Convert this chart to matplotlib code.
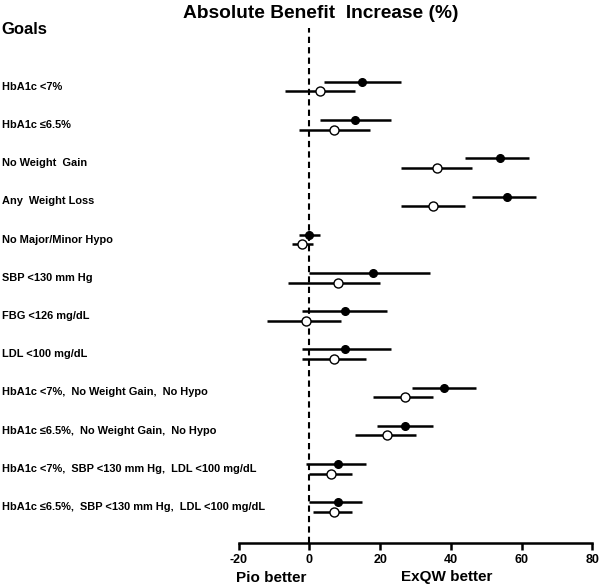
import matplotlib
matplotlib.use("Agg")
import matplotlib.pyplot as plt
import matplotlib.transforms as mtransforms
import numpy as np

plt.rcParams['font.family'] = ['Liberation Sans', 'DejaVu Sans']

goals = [
    "HbA1c <7%",
    "HbA1c \u22646.5%",
    "No Weight  Gain",
    "Any  Weight Loss",
    "No Major/Minor Hypo",
    "SBP <130 mm Hg",
    "FBG <126 mg/dL",
    "LDL <100 mg/dL",
    "HbA1c <7%,  No Weight Gain,  No Hypo",
    "HbA1c \u22646.5%,  No Weight Gain,  No Hypo",
    "HbA1c <7%,  SBP <130 mm Hg,  LDL <100 mg/dL",
    "HbA1c \u22646.5%,  SBP <130 mm Hg,  LDL <100 mg/dL",
]

# filled markers (upper) series
filled_est = [15, 13, 54, 56, 0, 18, 10, 10, 38, 27, 8, 8]
filled_lo = [4, 3, 44, 46, -3, 0, -2, -2, 29, 19, -1, 0]
filled_hi = [26, 23, 62, 64, 3, 34, 22, 23, 47, 35, 16, 15]

# open markers (lower) series
open_est = [3, 7, 36, 35, -2, 8, -1, 7, 27, 22, 6, 7]
open_lo = [-7, -3, 26, 26, -5, -6, -12, -2, 18, 13, 0, 1]
open_hi = [13, 17, 46, 44, 1, 20, 9, 16, 35, 30, 12, 12]

xticks = [-20, 0, 20, 40, 60, 80]

fig = plt.figure(figsize=(6.0, 5.87), dpi=100)
ax = fig.add_axes([0.398, 0.075, 0.589, 0.877])

rows = np.arange(len(goals))
off = 0.125
fe = np.array(filled_est); fl = np.array(filled_lo); fh = np.array(filled_hi)
oe = np.array(open_est); ol = np.array(open_lo); oh = np.array(open_hi)

ax.errorbar(fe, rows - off, xerr=[fe - fl, fh - fe], fmt='o', color='black',
            ms=5.5, mfc='black', mec='black', elinewidth=1.8, capsize=0)
ax.errorbar(oe, rows + off, xerr=[oe - ol, oh - oe], fmt='o', color='black',
            ms=6.5, mfc='white', mec='black', mew=1.0, elinewidth=1.8, capsize=0)

ax.axvline(0, color='black', lw=1.5, ls=(0, (3, 2)), zorder=0)

ax.set_xlim(-20, 80)
ax.set_ylim(11.94, -1.53)
ax.set_xticks(xticks)
ax.set_xticklabels([str(t) for t in xticks], fontweight='bold', fontsize=9)
ax.set_yticks([])
for s in ['top', 'right', 'left']:
    ax.spines[s].set_visible(False)
ax.spines['bottom'].set_linewidth(1.8)
ax.tick_params(axis='x', direction='out', length=5, width=1.8, pad=3)

trans = mtransforms.blended_transform_factory(fig.transFigure, ax.transData)
for i, g in enumerate(goals):
    ax.text(0.004, rows[i], g, transform=trans,
            fontsize=7.95, fontweight='bold', va='center', ha='left', clip_on=False)

fig.text(0.535, 0.992, "Absolute Benefit  Increase (%)", fontsize=13.8,
         fontweight='bold', ha='center', va='top')
fig.text(0.003, 0.95, "Goals", fontsize=12, fontweight='bold', ha='left', va='center')
fig.text(0.452, 0.015, "Pio better", fontsize=11, fontweight='bold', ha='center', va='center')
fig.text(0.745, 0.017, "ExQW better", fontsize=11, fontweight='bold', ha='center', va='center')

fig.savefig("out.png", dpi=100)
